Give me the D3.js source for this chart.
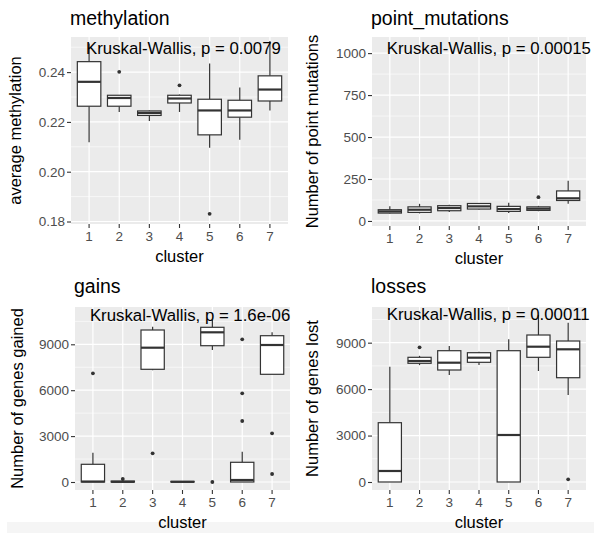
<!DOCTYPE html>
<html>
<head>
<meta charset="utf-8">
<script src="https://cdnjs.cloudflare.com/ajax/libs/d3/7.8.5/d3.min.js"></script>
<style>
  body { margin: 0; background: #fff; }
  svg { display: block; font-family: "Liberation Sans", Arial, sans-serif; }
</style>
</head>
<body>
<svg id="chart" width="594" height="533"></svg>
<script>
const clusters = ['1', '2', '3', '4', '5', '6', '7'];

// box stats per cluster: [lower whisker, q1, median, q3, upper whisker]
const methylationStats = [
  [0.2118, 0.2263, 0.2361, 0.2442, 0.2515],
  [0.2240, 0.2263, 0.2296, 0.2307, 0.2307],
  [0.2204, 0.2226, 0.2236, 0.2244, 0.2246],
  [0.2240, 0.2276, 0.2294, 0.2307, 0.2310],
  [0.2096, 0.2148, 0.2246, 0.2291, 0.2435],
  [0.2128, 0.2219, 0.2246, 0.2287, 0.2338],
  [0.2246, 0.2284, 0.2330, 0.2385, 0.2525]
];
const methylationOutliers = [['2', 0.2401], ['4', 0.2347], ['5', 0.1831]];
const methylationTicks = [0.18, 0.20, 0.22, 0.24];

const pointStats = [
  [45, 47, 57, 67, 87],
  [45, 51, 67, 84, 102],
  [53, 61, 77, 91, 97],
  [68, 71, 87, 104, 106],
  [47, 57, 71, 87, 108],
  [58, 63, 73, 84, 90],
  [102, 122, 135, 179, 240]
];
const pointOutliers = [['6', 142]];
const pointTicks = [0, 250, 500, 750, 1000];

const gainsStats = [
  [0, 0, 30, 1157, 1915],
  [0, 0, 10, 60, 100],
  [7300, 7366, 8778, 9935, 10150],
  [0, 0, 10, 40, 60],
  [8627, 8908, 9784, 10111, 10600],
  [0, 0, 130, 1288, 1980],
  [7039, 7039, 8954, 9562, 9784]
];
const gainsOutliers = [['1', 7100], ['2', 196], ['3', 1876], ['5', 0], ['6', 9327], ['6', 5797], ['6', 3987], ['7', 3183], ['7', 523]];
const gainsTicks = [0, 3000, 6000, 9000];

const lossesStats = [
  [0, 0, 711, 3831, 7448],
  [7550, 7668, 7816, 8055, 8150],
  [6912, 7235, 7707, 8482, 8786],
  [7558, 7732, 8030, 8353, 8420],
  [0, 0, 3036, 8482, 9218],
  [7170, 8055, 8740, 9496, 10800],
  [5620, 6737, 8572, 9108, 10290]
];
const lossesOutliers = [['2', 8700], ['7', 174]];
const lossesTicks = [0, 3000, 6000, 9000];

const svg = d3.select('#chart');

// light strip at the very bottom of the figure
svg.append('rect').attr('x', 7).attr('y', 522).attr('width', 587).attr('height', 11).attr('fill', '#f5f5f5');

function drawPanel(p) {
  const g = svg.append('g');
  const x = d3.scaleBand().domain(clusters).range([p.left, p.right]).paddingOuter(0.1).paddingInner(0);
  const y = d3.scaleLinear().domain(p.domain).range([p.bottom, p.top]);
  const cx = c => x(c) + x.bandwidth() / 2;

  g.append('rect')
    .attr('x', p.left).attr('y', p.top)
    .attr('width', p.right - p.left).attr('height', p.bottom - p.top)
    .attr('fill', '#ebebeb');

  // minor grid
  const step = p.ticks[1] - p.ticks[0];
  const minor = d3.range(p.ticks[0] - step / 2, p.domain[1], step).filter(v => v > p.domain[0] && v < p.domain[1]);
  g.selectAll('.minor').data(minor).join('line')
    .attr('x1', p.left).attr('x2', p.right)
    .attr('y1', d => y(d)).attr('y2', d => y(d))
    .attr('stroke', '#fff').attr('stroke-width', 0.6);
  // major grid
  g.selectAll('.majory').data(p.ticks).join('line')
    .attr('x1', p.left).attr('x2', p.right)
    .attr('y1', d => y(d)).attr('y2', d => y(d))
    .attr('stroke', '#fff').attr('stroke-width', 1.2);
  g.selectAll('.majorx').data(clusters).join('line')
    .attr('x1', d => cx(d)).attr('x2', d => cx(d))
    .attr('y1', p.top).attr('y2', p.bottom)
    .attr('stroke', '#fff').attr('stroke-width', 1.2);

  // axes
  const yAxis = g.append('g').attr('transform', `translate(${p.left},0)`)
    .call(d3.axisLeft(y).tickValues(p.ticks).tickSize(4).tickPadding(2).tickFormat(p.fmt));
  const xAxis = g.append('g').attr('transform', `translate(0,${p.bottom})`)
    .call(d3.axisBottom(x).tickSize(4).tickPadding(3));
  [xAxis, yAxis].forEach(a => {
    a.select('.domain').remove();
    a.selectAll('.tick line').attr('stroke', '#333').attr('stroke-width', 1.1);
    a.selectAll('.tick text').attr('fill', '#4d4d4d').attr('font-size', 13.5)
      .attr('font-family', '"Liberation Sans", Arial, sans-serif');
  });

  // boxes
  const bw = x.bandwidth() * 0.78;
  const boxes = g.selectAll('.box').data(p.stats.map((s, i) => ({ c: clusters[i], s }))).join('g');
  boxes.append('line')
    .attr('x1', d => cx(d.c)).attr('x2', d => cx(d.c))
    .attr('y1', d => y(d.s[4])).attr('y2', d => y(d.s[3]))
    .attr('stroke', '#333').attr('stroke-width', 1.2);
  boxes.append('line')
    .attr('x1', d => cx(d.c)).attr('x2', d => cx(d.c))
    .attr('y1', d => y(d.s[1])).attr('y2', d => y(d.s[0]))
    .attr('stroke', '#333').attr('stroke-width', 1.2);
  boxes.append('rect')
    .attr('x', d => cx(d.c) - bw / 2).attr('width', bw)
    .attr('y', d => y(d.s[3])).attr('height', d => Math.max(0.5, y(d.s[1]) - y(d.s[3])))
    .attr('fill', '#fff').attr('stroke', '#333').attr('stroke-width', 1.2);
  boxes.append('line')
    .attr('x1', d => cx(d.c) - bw / 2).attr('x2', d => cx(d.c) + bw / 2)
    .attr('y1', d => y(d.s[2])).attr('y2', d => y(d.s[2]))
    .attr('stroke', '#333').attr('stroke-width', 2.2);

  g.selectAll('.out').data(p.outliers).join('circle')
    .attr('cx', d => cx(d[0])).attr('cy', d => y(d[1])).attr('r', 1.9)
    .attr('fill', '#333');

  // texts
  g.append('text').attr('x', p.left - 1).attr('y', p.titleY)
    .attr('font-size', 19.5).attr('fill', '#000').text(p.title);
  g.append('text').attr('x', cx('1') - 3).attr('y', p.top + p.pY)
    .attr('font-size', 16.8).attr('fill', '#000').text(p.pText);
  g.append('text').attr('x', (p.left + p.right) / 2).attr('y', p.bottom + 38)
    .attr('text-anchor', 'middle').attr('font-size', 16.5).attr('fill', '#000').text('cluster');
  g.append('text')
    .attr('transform', `translate(${p.yTitleX},${(p.top + p.bottom) / 2}) rotate(-90)`)
    .attr('text-anchor', 'middle').attr('font-size', 16.5).attr('fill', '#000').text(p.yTitle);
}

drawPanel({
  left: 71, right: 288, top: 37, bottom: 224, domain: [0.1790, 0.2541],
  ticks: methylationTicks, fmt: d3.format('.2f'), stats: methylationStats, outliers: methylationOutliers,
  title: 'methylation', titleY: 25, pText: 'Kruskal-Wallis, p = 0.0079', pY: 17,
  yTitle: 'average methylation', yTitleX: 21
});
drawPanel({
  left: 372, right: 586, top: 37, bottom: 226, domain: [-30, 1096],
  ticks: pointTicks, fmt: d3.format('d'), stats: pointStats, outliers: pointOutliers,
  title: 'point_mutations', titleY: 25, pText: 'Kruskal-Wallis, p = 0.00015', pY: 17,
  yTitle: 'Number of point mutations', yTitleX: 318
});
drawPanel({
  left: 75, right: 290, top: 307, bottom: 490, domain: [-523, 11438],
  ticks: gainsTicks, fmt: d3.format('d'), stats: gainsStats, outliers: gainsOutliers,
  title: 'gains', titleY: 293, pText: 'Kruskal-Wallis, p = 1.6e-06', pY: 14,
  yTitle: 'Number of genes gained', yTitleX: 23
});
drawPanel({
  left: 372, right: 586, top: 307, bottom: 490, domain: [-517, 11305],
  ticks: lossesTicks, fmt: d3.format('d'), stats: lossesStats, outliers: lossesOutliers,
  title: 'losses', titleY: 293, pText: 'Kruskal-Wallis, p = 0.00011', pY: 13,
  yTitle: 'Number of genes lost', yTitleX: 318
});
</script>
</body>
</html>
